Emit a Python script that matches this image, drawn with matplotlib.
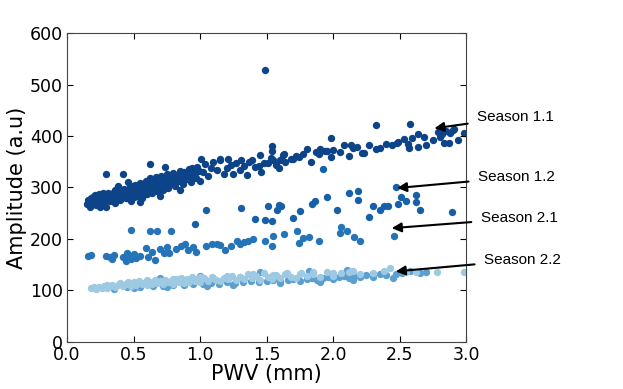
import matplotlib
matplotlib.use('Agg')
import matplotlib.pyplot as plt

# Season 1.1 (top band)
s11_x = [0.15, 0.16, 0.17, 0.18, 0.19, 0.20, 0.21, 0.22, 0.23, 0.24, 0.25, 0.26, 0.27, 0.28, 0.29,
         0.30, 0.31, 0.32, 0.33, 0.34, 0.35, 0.36, 0.37, 0.38, 0.39, 0.40, 0.41, 0.42, 0.43, 0.44,
         0.45, 0.46, 0.47, 0.48, 0.49, 0.50, 0.51, 0.52, 0.53, 0.54, 0.55, 0.56, 0.57, 0.58, 0.59,
         0.60, 0.61, 0.62, 0.63, 0.64, 0.65, 0.66, 0.67, 0.68, 0.69, 0.70, 0.71, 0.72, 0.73, 0.74,
         0.75, 0.76, 0.77, 0.78, 0.80, 0.81, 0.82, 0.84, 0.85, 0.87, 0.88, 0.90, 0.92, 0.93, 0.95,
         0.97, 0.98, 1.00,
         0.18, 0.21, 0.24, 0.27, 0.30, 0.33, 0.36, 0.39, 0.42, 0.45, 0.48, 0.51, 0.54, 0.57, 0.60,
         0.63, 0.66, 0.69, 0.72, 0.75, 0.78, 0.81, 0.84, 0.88, 0.91, 0.94, 0.96, 0.99,
         0.20, 0.23, 0.26, 0.28, 0.31, 0.34, 0.37, 0.40, 0.43, 0.47, 0.50, 0.53, 0.56, 0.59, 0.62,
         0.65, 0.68, 0.71, 0.74, 0.77, 0.80, 0.83, 0.86, 0.89, 0.92, 0.95,
         0.25, 0.55, 0.70, 0.38, 0.62, 0.46, 0.29, 0.85,
         1.02, 1.04, 1.06, 1.08, 1.10, 1.13, 1.15, 1.18, 1.20, 1.21, 1.23, 1.25, 1.27, 1.30, 1.31,
         1.33, 1.35, 1.37, 1.39, 1.41, 1.44, 1.45, 1.46, 1.48, 1.51, 1.53, 1.54, 1.54, 1.55, 1.57,
         1.59, 1.60, 1.62, 1.64, 1.68, 1.70, 1.72, 1.74, 1.01, 1.15,
         0.29, 0.42, 0.62, 0.74, 1.49,
         1.63, 1.80, 1.83, 1.89, 1.94, 1.98, 1.98, 2.05, 2.08, 2.13, 2.12, 2.23, 2.32, 2.32, 2.35,
         2.44, 2.48, 2.56, 2.58, 2.59, 2.64, 2.64, 2.70, 2.75, 2.80, 2.82, 2.85, 2.88, 2.90, 2.94,
         2.98, 2.83, 2.87, 2.22, 2.15, 2.49, 2.57, 2.79, 2.91,
         1.77, 1.87, 1.90, 2.00, 2.18, 2.27, 2.40, 2.53, 2.68, 1.95]
s11_y = [268, 275, 262, 280, 270, 283, 274, 266, 279, 287, 271, 282, 276, 268, 285,
         279, 290, 273, 284, 278, 292, 270, 286, 281, 295, 276, 289, 283, 298, 279,
         292, 286, 301, 274, 295, 289, 305, 283, 297, 291, 309, 280, 300, 294, 312,
         287, 303, 297, 316, 290, 306, 300, 320, 293, 309, 303, 323, 296, 313, 306,
         326, 299, 316, 310, 329, 303, 319, 313, 332, 307, 322, 316, 335, 310, 325,
         319, 340, 313,
         272, 285, 276, 290, 284, 275, 296, 286, 293, 280, 303, 294, 284, 307, 298,
         291, 312, 296, 318, 308, 322, 313, 327, 331, 320, 338, 328, 333,
         277, 270, 286, 281, 275, 288, 279, 292, 286, 294, 281, 300, 296, 288, 305,
         295, 310, 301, 316, 305, 318, 322, 312, 326, 329, 322,
         263, 272, 283, 302, 318, 310, 262, 295,
         330, 345, 322, 338, 350, 334, 354, 326, 337, 356, 344, 327, 348, 334, 353,
         342, 324, 350, 354, 339, 341, 363, 330, 347, 347, 358, 381, 371, 354, 343,
         337, 353, 363, 349, 356, 356, 362, 360, 356, 356,
         326, 327, 345, 339, 528,
         366, 374, 350, 366, 371, 397, 360, 369, 382, 382, 361, 367, 421, 374, 376,
         382, 386, 385, 423, 397, 403, 379, 382, 392, 398, 404, 410, 406, 412, 392,
         405, 386, 386, 367, 376, 388, 376, 408, 413,
         365, 368, 375, 372, 379, 383, 385, 395, 399, 371]

# Season 1.2 (scattered middle-upper group)
s12_x = [1.045, 1.31, 0.96, 1.41, 1.49, 1.54, 1.51, 1.58, 1.59, 1.61, 1.70, 1.75, 1.84, 1.86,
         1.95, 2.03, 2.12, 2.19, 2.19, 2.27, 2.30, 2.35, 2.38, 2.41, 2.47, 2.51, 2.49, 2.55,
         2.62, 2.62, 2.65, 2.89, 1.92]
s12_y = [257, 261, 230, 238, 236, 235, 264, 257, 266, 264, 241, 254, 268, 273,
         281, 257, 290, 293, 275, 243, 264, 257, 265, 264, 301, 281, 268, 273,
         286, 271, 256, 253, 336]

# Season 2.1 (lower middle group)
s21_x = [0.16, 0.18, 0.29, 0.32, 0.35, 0.34, 0.42, 0.44, 0.46, 0.48, 0.50, 0.52, 0.55, 0.45,
         0.48, 0.62, 0.68, 0.78,
         0.59, 0.61, 0.64, 0.66, 0.70, 0.73, 0.75, 0.77, 0.82, 0.86, 0.89, 0.91, 0.95, 0.97,
         1.045, 1.09, 1.13, 1.15, 1.19, 1.23, 1.28, 1.30, 1.33, 1.36, 1.40, 1.49, 1.55, 1.54,
         1.63, 1.73, 1.74, 1.77, 1.82, 1.89, 2.06, 2.05, 2.10, 2.16, 2.20, 2.46]
s21_y = [167, 168, 167, 165, 169, 161, 165, 158, 168, 162, 170, 163, 166, 172,
         218, 216, 215, 215,
         183, 165, 174, 160, 180, 172, 185, 173, 180, 186, 190, 178, 185, 175,
         186, 190, 191, 188, 178, 186, 196, 191, 194, 196, 199, 196, 206, 186,
         209, 216, 193, 201, 203, 196, 224, 211, 216, 204, 196, 206]

# Season 2.2 (bottom band), lighter and darker points
s22_light_x = [0.18, 0.20, 0.22, 0.24, 0.26, 0.28, 0.30, 0.32, 0.34, 0.36, 0.38, 0.40, 0.42, 0.44,
               0.46, 0.48, 0.50, 0.52, 0.54, 0.56, 0.58, 0.60, 0.62, 0.64, 0.66, 0.68, 0.70, 0.72,
               0.74, 0.76, 0.78, 0.80, 0.82, 0.84, 0.86, 0.88, 0.90, 0.92, 0.94, 0.96, 0.98, 1.00,
               1.03, 1.06, 1.09, 1.12, 1.15, 1.18, 1.21, 1.24, 1.27, 1.30, 1.33, 1.36, 1.39, 1.42,
               1.45, 1.48, 1.51, 1.54, 1.57, 1.60, 1.64, 1.68, 1.72, 1.76, 1.80, 1.85, 1.90, 1.95,
               2.00, 2.06, 2.12, 2.20, 2.30, 2.38, 2.43, 2.55, 2.62, 2.78, 2.98,
               0.30, 0.40, 0.50, 0.60, 0.70, 0.80, 0.90, 1.00, 1.10, 1.20, 1.30, 1.40, 1.55, 1.65,
               1.75, 1.85, 2.00, 2.15]
s22_light_y = [104, 106, 103, 107, 105, 109, 104, 108, 111, 106, 110, 113, 108, 112,
               116, 109, 114, 111, 118, 112, 115, 110, 117, 113, 120, 114, 118, 112,
               121, 116, 119, 113, 122, 117, 124, 115, 120, 117, 126, 119, 122, 116,
               124, 119, 127, 121, 118, 125, 122, 129, 120, 126, 123, 131, 124, 128,
               121, 133, 126, 123, 130, 125, 132, 127, 124, 134, 128, 131, 126, 135,
               129, 133, 136, 131, 134, 138, 144, 136, 135, 135, 135,
               110, 115, 116, 120, 119, 123, 122, 126, 125, 128, 127, 131, 130, 133,
               132, 135, 134, 138]
s22_dark_x = [0.35, 0.45, 0.55, 0.65, 0.72, 0.80, 0.88, 0.95, 1.02, 1.08, 1.14, 1.20, 1.26, 1.32,
              1.38, 1.44, 1.50, 1.55, 1.60, 1.66, 1.70, 1.75, 1.80, 1.84, 1.88, 1.92, 1.96, 2.00,
              2.04, 2.08, 2.12, 2.16, 2.20, 2.25, 2.30, 2.35, 2.40, 2.47, 2.52, 2.58, 2.65, 2.70,
              1.45, 1.00, 0.70, 1.82, 2.10,
              0.50, 0.75, 1.05, 1.25, 1.60, 1.90, 2.15, 2.45]
s22_dark_y = [103, 106, 107, 109, 108, 110, 111, 113, 112, 115, 113, 116, 114, 117,
              119, 116, 118, 121, 118, 120, 123, 119, 122, 125, 121, 124, 127, 123,
              126, 129, 125, 128, 126, 130, 127, 132, 130, 132, 134, 137, 133, 136,
              135, 128, 124, 138, 140,
              104, 106, 109, 111, 114, 117, 120, 124]

labels = ['Season 1.1', 'Season 1.2', 'Season 2.1', 'Season 2.2']
arrow_heads = [(2.76, 415), (2.48, 299), (2.44, 221), (2.47, 137)]
label_pos = [(3.083, 437), (3.09, 320), (3.11, 240), (3.135, 159)]

fig = plt.figure(figsize=(6.23, 3.89), dpi=100)
ax = fig.add_axes([0.1075, 0.121, 0.641, 0.794])

ax.scatter(s22_dark_x, s22_dark_y, s=28, c='#5a9fd0', linewidths=0)
ax.scatter(s22_light_x, s22_light_y, s=28, c='#9dc9e2', linewidths=0)
ax.scatter(s21_x, s21_y, s=28, c='#2574b7', linewidths=0)
ax.scatter(s12_x, s12_y, s=28, c='#1560a8', linewidths=0)
ax.scatter(s11_x, s11_y, s=28, c='#0c4389', linewidths=0)

ax.set_xlim(0, 3)
ax.set_ylim(0, 600)
ax.set_xticks([0.0, 0.5, 1.0, 1.5, 2.0, 2.5, 3.0])
ax.set_yticks([0, 100, 200, 300, 400, 500, 600])
ax.tick_params(direction='in', top=True, right=True, length=4, labelsize=12.5, pad=3)
for sp in ax.spines.values():
    sp.set_color('#444444')
ax.set_xlabel('PWV (mm)', fontsize=15, labelpad=0)
ax.set_ylabel('Amplitude (a.u)', fontsize=15, labelpad=2)

for lab, head, pos in zip(labels, arrow_heads, label_pos):
    ax.annotate(lab, xy=head, xytext=pos, va='center', ha='left', fontsize=11,
                family='Liberation Sans', annotation_clip=False,
                arrowprops=dict(arrowstyle='-|>', color='black', lw=1.5,
                                mutation_scale=14, shrinkA=5, shrinkB=0))

plt.savefig('out.png', dpi=100)
